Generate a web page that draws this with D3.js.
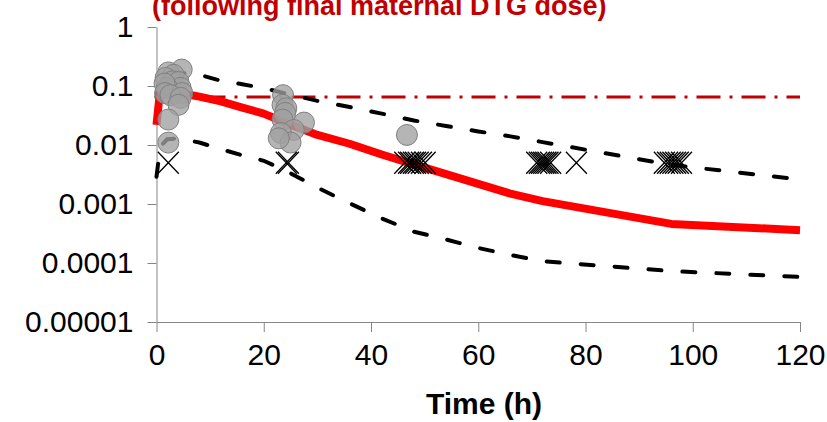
<!DOCTYPE html>
<html>
<head>
<meta charset="utf-8">
<script src="https://cdn.jsdelivr.net/npm/d3@7"></script>
<style>
  body { margin: 0; background: #fff; }
  svg { font-family: "Liberation Sans", Arial, sans-serif; }
</style>
</head>
<body>
<svg id="SVG_CONTAINER" width="827" height="422"></svg>
<script>
// ---- data ----
const simTimes = [0, 0.5, 1, 2, 4, 8, 12, 16, 20, 24, 30, 36, 42, 48, 54, 60, 66, 72, 96, 120];
const median   = [0.022, 0.06, 0.075, 0.08, 0.077, 0.066, 0.055, 0.043, 0.034, 0.024, 0.0148, 0.0105, 0.0069, 0.0047, 0.0032, 0.0022, 0.0015, 0.00112, 0.00046, 0.00036];
const upper95  = [0.065, 0.13, 0.16, 0.175, 0.17, 0.155, 0.123, 0.107, 0.092, 0.075, 0.056, 0.044, 0.034, 0.026, 0.021, 0.017, 0.014, 0.0112, 0.0046, 0.0026];
const lower5   = [0.0029, 0.0068, 0.0100, 0.0125, 0.013, 0.011, 0.0085, 0.0067, 0.0054, 0.0037, 0.0019, 0.00103, 0.00057, 0.00034, 0.00025, 0.00018, 0.000137, 0.000107, 0.000073, 0.000058];
const threshold = 0.065;

// observed concentrations (grey circles)
const obsTimes  = [4.7, 2.2, 3.2, 1.7, 3.0, 4.1, 4.5, 2.0, 1.5, 1.6, 4.8, 2.6, 4.5, 4.1, 2.2, 2.2,
                   23.6, 23.5, 24.2, 24.0, 27.5, 23.5, 25.6, 23.2, 25.0, 22.8, 46.7];
const obsValues = [0.19, 0.17, 0.155, 0.137, 0.12, 0.117, 0.093, 0.093, 0.11, 0.076, 0.076, 0.07, 0.063, 0.048, 0.027, 0.011,
                   0.07, 0.048, 0.042, 0.035, 0.024, 0.027, 0.018, 0.016, 0.011, 0.013, 0.0148];

// below quantification (crosses)
const blqTimes = [2.2, 24.2, 24.6, 46.3, 47, 47.4, 47.9, 48.3, 48.8, 49.4, 50.1,
                  70.9, 71.4, 71.8, 72.2, 72.6, 73, 73.5, 78.3,
                  94.7, 95.3, 95.8, 96.3, 96.8, 97.3, 97.9];
const blqValue = 0.005;

const yTicks  = [1e-5, 1e-4, 1e-3, 1e-2, 1e-1, 1];
const yLabels = ["0.00001", "0.0001", "0.001", "0.01", "0.1", "1"];
const xTicks  = [0, 20, 40, 60, 80, 100, 120];

const titleText = "(following final maternal DTG dose)";
const xTitle = "Time (h)";

// ---- layout ----
const PLOT = { LEFT: 156.5, RIGHT: 800, TOP: 27, BOTTOM: 322 };
const AXIS_GREY = "#868686";

let svg = d3.select("#SVG_CONTAINER");

let xScale = d3.scaleLinear().domain([0, 120]).range([PLOT.LEFT, PLOT.RIGHT]);
let yScale = d3.scaleLog().domain([1e-5, 1]).range([PLOT.BOTTOM, PLOT.TOP]);

// title (top line cut off in the original)
svg.append("text")
    .attr("x", 152)
    .attr("y", 15)
    .attr("font-size", 27)
    .attr("font-weight", "bold")
    .attr("fill", "#c00000")
    .text(titleText);

// axes
let yAxis = d3.axisLeft(yScale)
    .tickValues(yTicks)
    .tickFormat((d, i) => yLabels[i])
    .tickSize(9)
    .tickSizeOuter(0)
    .tickPadding(14);
let gy = svg.append("g")
    .attr("transform", "translate(" + PLOT.LEFT + ",0)")
    .call(yAxis);

let xAxis = d3.axisBottom(xScale)
    .tickValues(xTicks)
    .tickSize(10)
    .tickSizeOuter(0)
    .tickPadding(12);
let gx = svg.append("g")
    .attr("transform", "translate(0," + PLOT.BOTTOM + ")")
    .call(xAxis);

[gx, gy].forEach(g => {
    g.selectAll("path, line").attr("stroke", AXIS_GREY).attr("stroke-width", 1);
    g.selectAll("text").attr("font-size", 30).attr("fill", "#000")
        .attr("font-family", "'Liberation Sans', Arial, sans-serif");
});

svg.append("text")
    .attr("x", 484)
    .attr("y", 414)
    .attr("text-anchor", "middle")
    .attr("font-size", 30)
    .attr("font-weight", "bold")
    .text(xTitle);

// ---- lines ----
let line = d3.line()
    .x(d => xScale(d[0]))
    .y(d => yScale(d[1]));

// threshold dash-dot
svg.append("path")
    .datum([[0, threshold], [120, threshold]])
    .attr("d", line)
    .attr("fill", "none")
    .attr("stroke", "#c00000")
    .attr("stroke-width", 3)
    .attr("stroke-dasharray", "24,9,3,9");

// 5th / 95th percentiles
[upper95, lower5].forEach(vals => {
    svg.append("path")
        .datum(simTimes.map((t, i) => [t, vals[i]]))
        .attr("d", line)
        .attr("fill", "none")
        .attr("stroke", "#000")
        .attr("stroke-width", 4)
        .attr("stroke-linecap", "round")
        .attr("stroke-dasharray", "13,21");
});

// median
svg.append("path")
    .datum(simTimes.map((t, i) => [t, median[i]]))
    .attr("d", line)
    .attr("fill", "none")
    .attr("stroke", "#ff0000")
    .attr("stroke-width", 8)
    .attr("stroke-linejoin", "round");

// ---- observations ----
svg.append("g")
    .selectAll("circle")
    .data(obsTimes.map((t, i) => [t, obsValues[i]]))
    .enter()
    .append("circle")
    .attr("cx", d => xScale(d[0]))
    .attr("cy", d => yScale(d[1]))
    .attr("r", 10.5)
    .attr("fill", "rgba(160,160,160,0.78)")
    .attr("stroke", "#808080")
    .attr("stroke-width", 1);

// BLQ crosses
let hw = 10.5, hh = 11;
svg.append("g")
    .selectAll("path")
    .data(blqTimes)
    .enter()
    .append("path")
    .attr("d", t => {
        let cx = xScale(t), cy = yScale(blqValue);
        return "M" + (cx - hw) + "," + (cy - hh) + "L" + (cx + hw) + "," + (cy + hh) +
               "M" + (cx - hw) + "," + (cy + hh) + "L" + (cx + hw) + "," + (cy - hh);
    })
    .attr("stroke", "#000")
    .attr("stroke-width", 1.3)
    .attr("fill", "none");
</script>
</body>
</html>
